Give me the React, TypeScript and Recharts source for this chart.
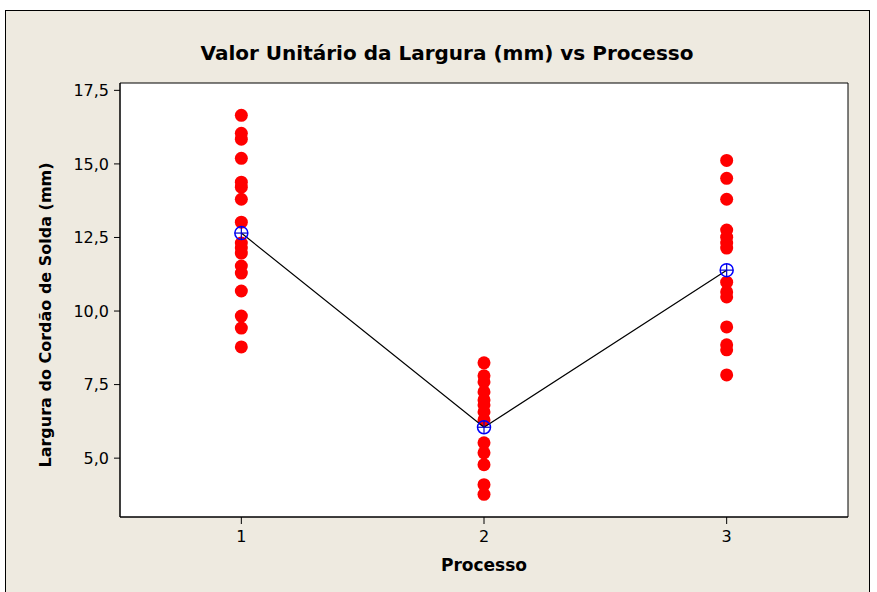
import React from "react";
import { ReferenceArea, Scatter, ScatterChart, XAxis, YAxis } from "recharts";

const processos = [1, 2, 3];
const larguraProcesso1 = [16.65, 16.04, 15.84, 15.19, 14.38, 14.21, 13.8, 13.02, 12.31, 12.14, 11.97, 11.53, 11.29, 10.68, 9.83, 9.42, 8.78];
const larguraProcesso2 = [8.24, 7.8, 7.59, 7.25, 6.98, 6.81, 6.57, 6.3, 5.52, 5.18, 4.78, 4.1, 3.77];
const larguraProcesso3 = [15.12, 14.51, 13.8, 12.75, 12.51, 12.31, 12.14, 10.98, 10.65, 10.48, 9.46, 8.85, 8.68, 7.83];
const medias = [12.65, 6.05, 11.39];
const yTicks = [5, 7.5, 10, 12.5, 15, 17.5];

const pontos = [larguraProcesso1, larguraProcesso2, larguraProcesso3].flatMap((valores, i) =>
  valores.map((v) => ({ processo: processos[i], largura: v }))
);
const pontosMedia = processos.map((p, i) => ({ processo: p, largura: medias[i] }));

const fonte = "'DejaVu Sans', Verdana, sans-serif";

const PontoVermelho = (props: any) => <circle cx={props.cx} cy={props.cy} r={6.5} fill="#FF0000" />;

const SimboloMedia = (props: any) => {
  const { cx, cy } = props;
  return (
    <g>
      <circle cx={cx} cy={cy} r={6.5} fill="none" stroke="#0000FF" strokeWidth={1.5} />
      <line x1={cx - 6.5} y1={cy} x2={cx + 6.5} y2={cy} stroke="#0000CC" strokeWidth={1.2} />
      <line x1={cx} y1={cy - 6.5} x2={cx} y2={cy + 6.5} stroke="#0000CC" strokeWidth={1.2} />
    </g>
  );
};

const virgula = (v: number) => v.toFixed(1).replace(".", ",");

export default function App() {
  return (
    <div style={{ position: "absolute", left: 0, top: 0, width: 877, height: 592, background: "#ffffff", overflow: "hidden" }}>
      <div
        style={{
          position: "absolute",
          left: 5,
          top: 10,
          width: 863,
          height: 600,
          background: "#EEEAE0",
          border: "1px solid #000",
        }}
      />
      <div
        style={{
          position: "absolute",
          left: 0,
          top: 41,
          width: 894,
          textAlign: "center",
          fontFamily: fonte,
          fontWeight: "bold",
          fontSize: 20,
          color: "#000",
        }}
      >
        Valor Unitário da Largura (mm) vs Processo
      </div>
      <div style={{ position: "absolute", left: 0, top: 0 }}>
        <ScatterChart width={877} height={592} margin={{ top: 83, right: 29, bottom: 45, left: 60 }}>
          <XAxis
            type="number"
            dataKey="processo"
            domain={[0.5, 3.5]}
            ticks={processos}
            allowDataOverflow
            height={30}
            axisLine={{ stroke: "#000" }}
            tickLine={{ stroke: "#000" }}
            tickSize={7}
            tickMargin={7}
            tick={{ fill: "#000", fontSize: 16, fontFamily: fonte }}
            label={{
              content: (p: any) => (
                <text
                  x={p.viewBox.x + p.viewBox.width / 2}
                  y={571}
                  textAnchor="middle"
                  fontFamily={fonte}
                  fontWeight="bold"
                  fontSize={17}
                  fill="#000"
                >
                  Processo
                </text>
              ),
            }}
          />
          <YAxis
            type="number"
            dataKey="largura"
            domain={[3, 17.75]}
            ticks={yTicks}
            allowDataOverflow
            width={60}
            axisLine={{ stroke: "#000" }}
            tickLine={{ stroke: "#000" }}
            tickSize={6}
            tickMargin={5}
            tickFormatter={virgula}
            tick={{ fill: "#000", fontSize: 16, fontFamily: fonte }}
            label={{
              content: (p: any) => {
                const cy = p.viewBox.y + p.viewBox.height / 2 + 15;
                return (
                  <text
                    x={51}
                    y={cy}
                    transform={`rotate(-90, 51, ${cy})`}
                    textAnchor="middle"
                    fontFamily={fonte}
                    fontWeight="bold"
                    fontSize={16}
                    fill="#000"
                  >
                    Largura do Cordão de Solda (mm)
                  </text>
                );
              },
            }}
          />
          <ReferenceArea x1={0.5} x2={3.5} y1={3} y2={17.75} fill="#ffffff" fillOpacity={1} stroke="#000" strokeWidth={1} />
          <Scatter data={pontos} shape={PontoVermelho} isAnimationActive={false} />
          <Scatter
            data={pontosMedia}
            shape={SimboloMedia}
            line={{ stroke: "#000", strokeWidth: 1.2 }}
            isAnimationActive={false}
          />
        </ScatterChart>
      </div>
    </div>
  );
}
